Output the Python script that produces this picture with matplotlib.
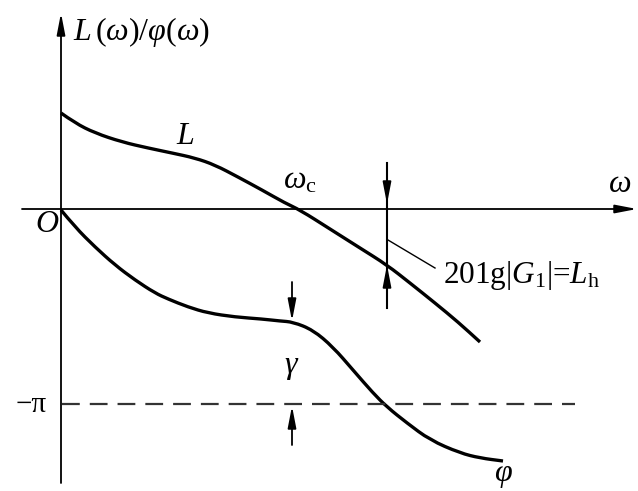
import matplotlib
matplotlib.use('Agg')
import matplotlib.pyplot as plt
from matplotlib.path import Path
from matplotlib.patches import PathPatch

plt.rcParams['font.family'] = ['Liberation Serif', 'DejaVu Serif']
plt.rcParams['mathtext.fontset'] = 'custom'
plt.rcParams['mathtext.rm'] = 'Liberation Serif'
plt.rcParams['mathtext.it'] = 'Liberation Serif:italic'

# sketch coordinates (pixel grid, y grows downward)
L_x = [61, 75, 95, 122, 148, 172, 195, 215, 238, 262, 285, 300,
       330, 360, 387, 410, 435, 458, 480]
L_y = [113, 123, 133, 142, 148, 153, 158, 165, 177, 190, 203, 210,
       229, 248, 265, 283, 303, 322, 342]

phi_x = [61, 75, 95, 115, 135, 155, 168, 188, 208, 235, 262, 280, 293,
         313, 333, 353, 373, 387, 407, 430, 460, 480, 503]
phi_y = [210, 227, 247, 265, 280, 293, 299, 307, 313, 317, 319, 321, 322,
         330, 347, 370, 393, 407, 423, 440, 453, 458, 461]

origin = (61, 209)
minus_pi = 404
w_h = 387
L_at_h = 265
gamma_x = 292
phi_at_c = 321


def smooth_path(xs, ys):
    # quadratic bezier through the midpoints, read points act as control points
    pts = list(zip(xs, ys))
    verts = [pts[0]]
    codes = [Path.MOVETO]
    for i in range(1, len(pts) - 1):
        mid = ((pts[i][0] + pts[i + 1][0]) / 2, (pts[i][1] + pts[i + 1][1]) / 2)
        verts += [pts[i], mid]
        codes += [Path.CURVE3, Path.CURVE3]
    verts.append(pts[-1])
    codes.append(Path.LINETO)
    return Path(verts, codes)


fig = plt.figure(figsize=(6.38, 4.91), dpi=100)
ax = fig.add_axes([0, 0, 1, 1])
ax.set_xlim(0, 638)
ax.set_ylim(491, 0)
ax.axis('off')

head = dict(arrowstyle='-|>,head_length=1.3,head_width=0.25', color='black',
            lw=1.3, shrinkA=0, shrinkB=0)

# axes
ax.annotate('', xy=(637, origin[1]), xytext=(22, origin[1]), arrowprops=head)
ax.annotate('', xy=(origin[0], 13), xytext=(origin[0], 483), arrowprops=head)

# -pi reference line
ax.plot([62, 575], [minus_pi, minus_pi], color='#333333', lw=1.6, dashes=(8, 4.5))

# curves
for xs, ys in [(L_x, L_y), (phi_x, phi_y)]:
    ax.add_patch(PathPatch(smooth_path(xs, ys), facecolor='none', edgecolor='black',
                           lw=2.4, capstyle='butt', joinstyle='round'))

# gain margin marker
ax.plot([w_h, w_h], [163, 308], color='black', lw=1.5)
ax.annotate('', xy=(w_h, origin[1] - 5), xytext=(w_h, 180), arrowprops=head)
ax.annotate('', xy=(w_h, L_at_h), xytext=(w_h, 286), arrowprops=head)
ax.plot([388, 435], [240, 268], color='black', lw=1.0)

# phase margin marker
ax.annotate('', xy=(gamma_x, phi_at_c), xytext=(gamma_x, 282), arrowprops=head)
ax.annotate('', xy=(gamma_x, minus_pi + 2), xytext=(gamma_x, 445), arrowprops=head)

# labels
fs = 23
ax.text(73, 32, r'$L\,(ω)/φ(ω)$', fontsize=fs, va='center', ha='left')
ax.text(185, 136, r'$L$', fontsize=fs, va='center', ha='center')
ax.text(300, 181, r'$ω_{\rm c}$', fontsize=fs, va='center', ha='center')
ax.text(620, 185, r'$ω$', fontsize=fs, va='center', ha='center')
ax.text(47, 225, r'$O$', fontsize=fs, va='center', ha='center')
ax.text(443, 275, r'201g$|G_{1}|$=$L_{\rm h}$', fontsize=22.5, va='center', ha='left')
ax.text(292, 368, r'$γ$', fontsize=fs, va='center', ha='center')
ax.text(31, 405, '−π', fontsize=21, va='center', ha='center')
ax.text(503, 476, r'$φ$', fontsize=fs, va='center', ha='center')

fig.savefig('out.png', dpi=100)
